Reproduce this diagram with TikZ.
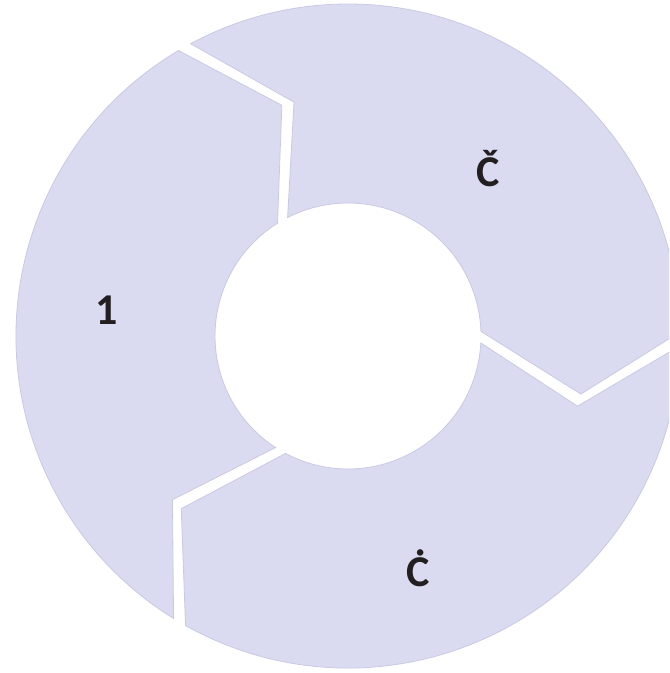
\documentclass[tikz,border=0pt]{standalone}
\usepackage{fontspec}
\setmainfont{Carlito}
\usetikzlibrary{positioning}
\definecolor{segfill}{RGB}{218,219,240}
\definecolor{segline}{RGB}{200,202,228}
\definecolor{lbltext}{RGB}{35,31,32}
\tikzset{
  seg/.style={fill=segfill,draw=segline,line width=0.6pt,line join=miter},
  seglbl/.style={font=\fontsize{33}{40}\selectfont\bfseries,text=lbltext,anchor=base,inner sep=0pt},
}

\begin{document}
\begin{tikzpicture}[x=0.75pt,y=0.75pt]
  \useasboundingbox (-348,-337) rectangle (321,336);
  \clip (-348,-337) rectangle (321,336);
  % three arrow segments of the ring: head gap / tail gap
  \foreach \hd/\tl in {119.5/239.5, -0.5/119.5, 239.5/359.5}{
    \draw[seg] (\hd+1.2:332) arc[start angle=\hd+1.2,end angle=\tl-1.2,radius=332]
      -- (\tl-16.5:240) -- (\tl-2.5:133)
      arc[start angle=\tl-2.5,end angle=\hd+2.5,radius=133]
      -- (\hd-13.5:240) -- cycle;
  }
  \node[seglbl] (one) at (-241,11) {1};
  \node[seglbl] (ccaron) at (140,149.5) {Č};
  \node[seglbl] (cdot) at (70,-250.5) {Ċ};
\end{tikzpicture}
\end{document}
